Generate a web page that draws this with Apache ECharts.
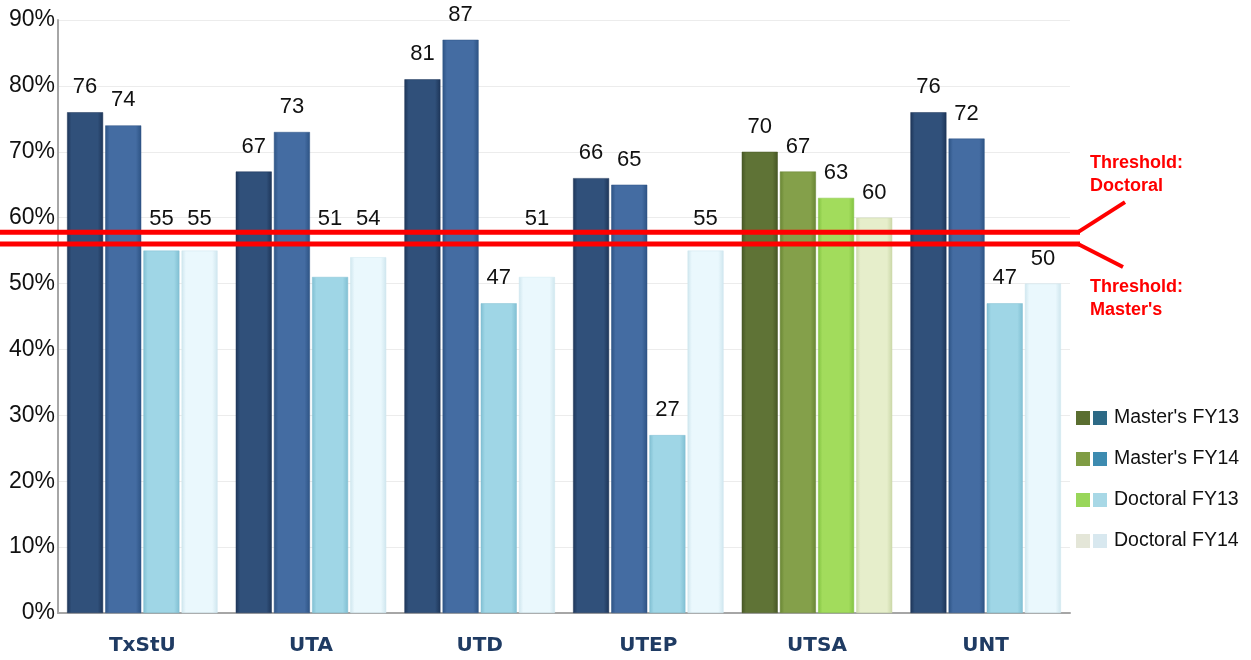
<!DOCTYPE html>
<html>
<head>
<meta charset="utf-8">
<script src="https://cdn.jsdelivr.net/npm/echarts@6/dist/echarts.min.js"></script>
<style>html,body{margin:0;padding:0;background:#fff}#c{width:1251px;height:660px}</style>
</head>
<body>
<div id="c"></div>
<script>
var categories = ['TxStU', 'UTA', 'UTD', 'UTEP', 'UTSA', 'UNT'];
var seriesNames = ["Master's FY13", "Master's FY14", 'Doctoral FY13', 'Doctoral FY14'];
var mastersFY13 = [76, 67, 81, 66, 70, 76];
var mastersFY14 = [74, 73, 87, 65, 67, 72];
var doctoralFY13 = [55, 51, 47, 27, 63, 47];
var doctoralFY14 = [55, 54, 51, 55, 60, 50];
var yTicks = [0, 10, 20, 30, 40, 50, 60, 70, 80, 90];
var thresholdDoctoral = 57.8;
var thresholdMasters = 56;
var highlightCategory = 'UTSA';

var blueColors = [['#30507a', '#1d3558'], ['#446ca2', '#2d5384'], ['#9fd6e6', '#80bfd2'], ['#eaf8fd', '#cfe6ee']];
var greenColors = [['#5f7336', '#465624'], ['#84a04a', '#688533'], ['#a2dc5c', '#82c241'], ['#e6eecb', '#cbd8a8']];
var legendGreen = ['#5a6e30', '#7f9c44', '#99d65a', '#e4e6d8'];
var legendBlue = ['#2d6a86', '#3d8bb0', '#a8d8e6', '#d8e8ef'];

var gridTop = 20, gridBottom = 47, chartH = 660, yMax = 90;
var pxPerUnit = (chartH - gridTop - gridBottom) / yMax;
var baseDist = 14;
var labelH = 16;

function labelDistance(v) {
  var centerPx = v * pxPerUnit + baseDist + labelH / 2 + 2;
  var loPx = thresholdMasters * pxPerUnit - 4;
  var hiPx = thresholdDoctoral * pxPerUnit + 4;
  if (centerPx + labelH / 2 > loPx && centerPx - labelH / 2 < hiPx) {
    return hiPx - 2 - v * pxPerUnit;
  }
  return baseDist;
}

function grad(c) {
  return new echarts.graphic.LinearGradient(0, 0, 1, 0, [
    {offset: 0, color: c[1]}, {offset: 0.12, color: c[0]}, {offset: 0.85, color: c[0]}, {offset: 1, color: c[1]}
  ]);
}

var allData = [mastersFY13, mastersFY14, doctoralFY13, doctoralFY14];
var series = allData.map(function (arr, si) {
  return {
    name: seriesNames[si],
    type: 'bar',
    barWidth: 36,
    barGap: '6%',
    data: arr.map(function (v, ci) {
      var pal = categories[ci] === highlightCategory ? greenColors : blueColors;
      return {
        value: v,
        itemStyle: {color: grad(pal[si]), borderColor: pal[si][1], borderWidth: 0.5},
        label: {distance: labelDistance(v)}
      };
    }),
    label: {show: true, position: 'top', color: '#111', fontSize: 22, fontFamily: 'Liberation Sans'}
  };
});

var chart = echarts.init(document.getElementById('c'), null, {renderer: 'canvas'});
chart.setOption({
  animation: false,
  backgroundColor: '#fff',
  grid: {left: 58, right: 181, top: gridTop, bottom: gridBottom, containLabel: false},
  xAxis: {
    type: 'category', data: categories,
    axisLine: {lineStyle: {color: '#a6a6a6', width: 2}},
    axisTick: {show: false},
    axisLabel: {color: '#1f3b63', fontWeight: 'bold', fontSize: 20, fontFamily: 'DejaVu Sans', margin: 23}
  },
  yAxis: {
    type: 'value', min: 0, max: yMax, interval: 10,
    axisLine: {show: true, lineStyle: {color: '#a6a6a6', width: 2}},
    axisTick: {show: false},
    splitLine: {lineStyle: {color: '#ececec', width: 1}},
    axisLabel: {color: '#111', fontSize: 23, fontFamily: 'Liberation Sans', margin: 3,
      formatter: function (v) { return yTicks.indexOf(v) >= 0 ? v + '%' : ''; }}
  },
  series: series
});

var yD = chart.convertToPixel({yAxisIndex: 0}, thresholdDoctoral);
var yM = chart.convertToPixel({yAxisIndex: 0}, thresholdMasters);
var xEnd = 1080;
var gfx = [
  {type: 'line', shape: {x1: 0, y1: yD, x2: xEnd, y2: yD}, style: {stroke: '#ff0000', lineWidth: 5}, z: 100},
  {type: 'line', shape: {x1: 0, y1: yM, x2: xEnd, y2: yM}, style: {stroke: '#ff0000', lineWidth: 5}, z: 100},
  {type: 'line', shape: {x1: xEnd - 2, y1: yD, x2: 1125, y2: yD - 30}, style: {stroke: '#ff0000', lineWidth: 4}, z: 100},
  {type: 'line', shape: {x1: xEnd - 2, y1: yM, x2: 1123, y2: yM + 23}, style: {stroke: '#ff0000', lineWidth: 4}, z: 100},
  {type: 'text', x: 1090, y: 152, style: {text: 'Threshold:\nDoctoral', fill: '#ff0000', font: 'bold 18px "Liberation Sans"', lineHeight: 23}, z: 100},
  {type: 'text', x: 1090, y: 276, style: {text: "Threshold:\nMaster's", fill: '#ff0000', font: 'bold 18px "Liberation Sans"', lineHeight: 23}, z: 100}
];
seriesNames.forEach(function (n, i) {
  var y = 418 + i * 41;
  gfx.push({type: 'rect', shape: {x: 1076, y: y - 7, width: 14, height: 14}, style: {fill: legendGreen[i]}});
  gfx.push({type: 'rect', shape: {x: 1093, y: y - 7, width: 14, height: 14}, style: {fill: legendBlue[i]}});
  gfx.push({type: 'text', x: 1114, y: y, style: {text: n, fill: '#111', font: '19.5px "Liberation Sans"', textVerticalAlign: 'middle'}});
});
chart.setOption({graphic: gfx});
</script>
</body>
</html>
